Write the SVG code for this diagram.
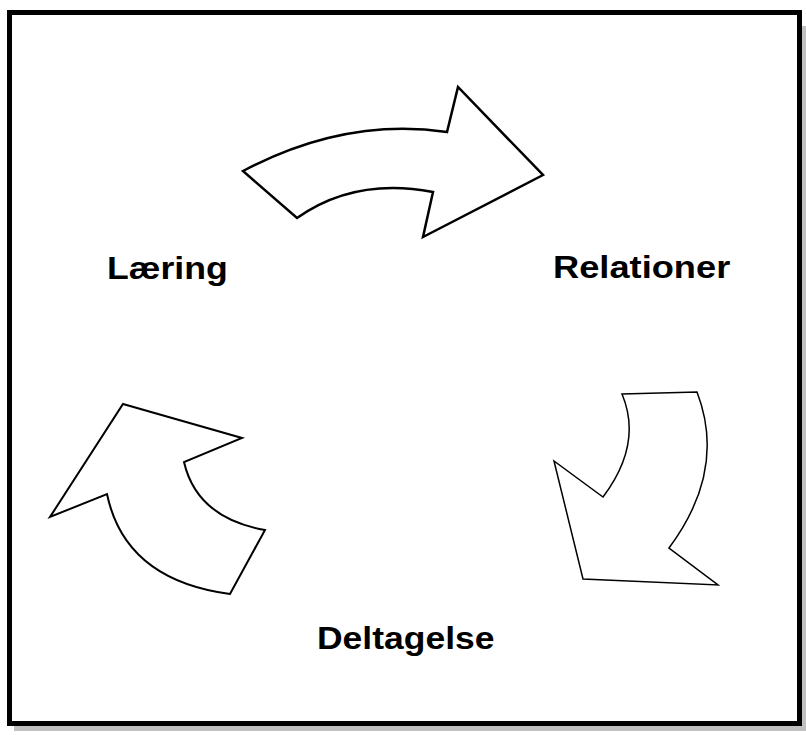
<svg xmlns="http://www.w3.org/2000/svg" width="806" height="735" viewBox="0 0 806 735">
<style>
.arrow{fill:#fff;stroke:#000;stroke-linejoin:miter}
.lbl{font-family:"Liberation Sans",Arial,sans-serif;font-weight:bold;font-size:31px;fill:#000}
</style>
<rect width="806" height="735" fill="#fff"/>
<g id="frame">
<rect x="14" y="26" width="792" height="705" fill="#c0c0c0"/>
<rect x="9.5" y="12.5" width="790" height="711" fill="#fff" stroke="#000" stroke-width="5"/>
</g>
<g id="connectors">
<path id="arrow-top" class="arrow" stroke-width="2.5" d="M243,171 Q345,117 447,132 L458,87 L543,175 L423,237 L433,192 Q355,177 297,218 Z"/>
<path id="arrow-right" class="arrow" stroke-width="1.5" d="M622,394 L697,392 Q727,470 669,548 L718,585 L583,579 L554,461 L603,497 Q643,444 622,394 Z"/>
<path id="arrow-left" class="arrow" stroke-width="2" d="M123,404 L242,438 L184,462 Q197,518 265,530 L230,594 Q125,580 107,494 L50,517 Z"/>
</g>
<g id="node-laering"><text class="lbl" transform="translate(107,279) scale(1.15,1)">Læring</text></g>
<g id="node-relationer"><text class="lbl" transform="translate(553,278) scale(1.17,1)">Relationer</text></g>
<g id="node-deltagelse"><text class="lbl" transform="translate(317,649) scale(1.145,1)">Deltagelse</text></g>
</svg>
